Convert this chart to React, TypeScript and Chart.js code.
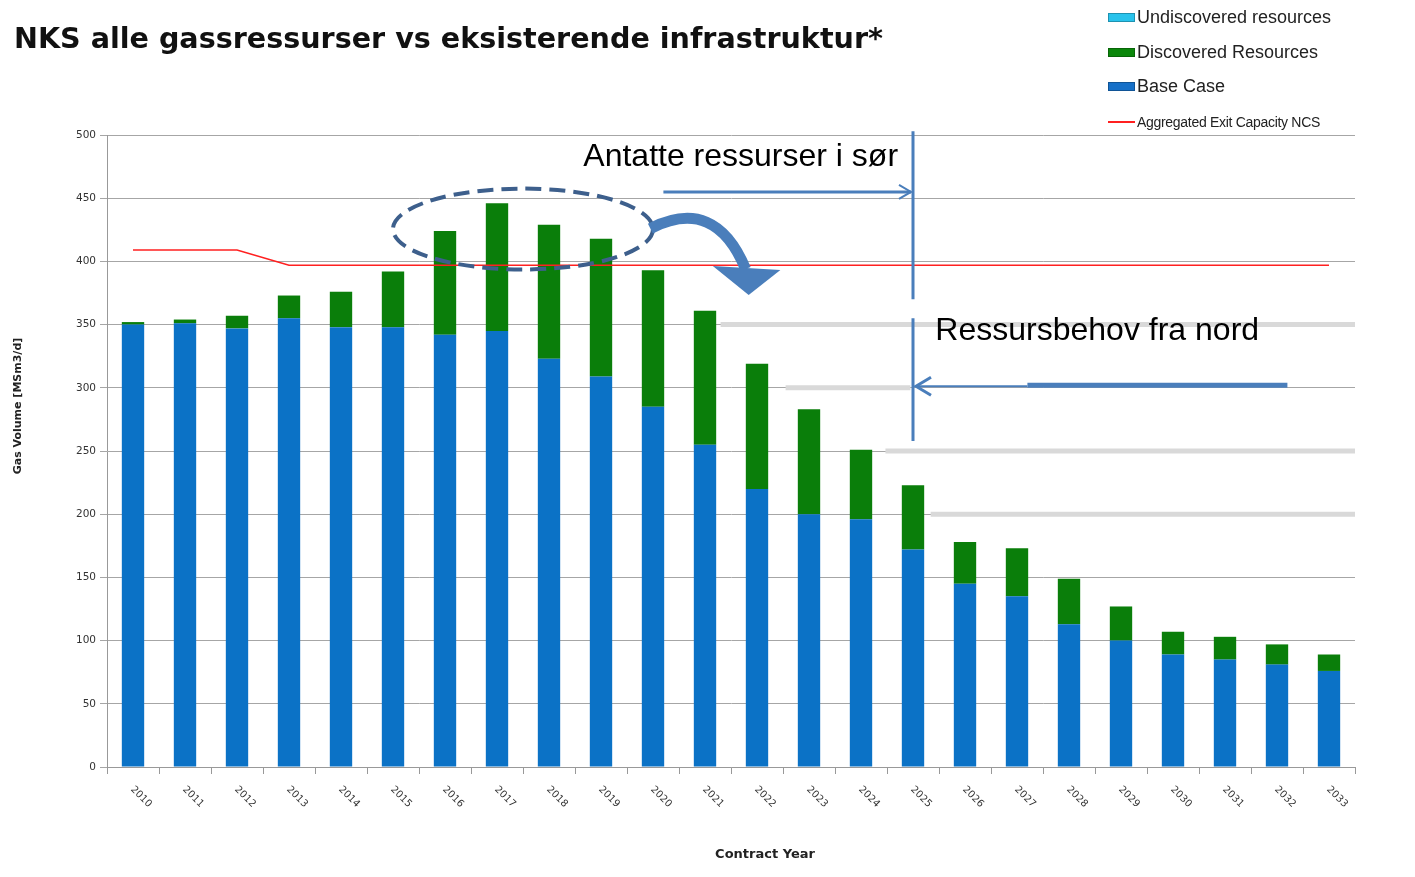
import React, { useEffect, useRef } from 'react';
import { Chart, registerables } from 'chart.js';

Chart.register(...registerables);

const years = ['2010', '2011', '2012', '2013', '2014', '2015', '2016', '2017', '2018', '2019', '2020', '2021', '2022', '2023', '2024', '2025', '2026', '2027', '2028', '2029', '2030', '2031', '2032', '2033'];
const baseCase = [350, 351, 347, 355, 348, 348, 342, 345, 323, 309, 285, 255, 220, 200, 196, 172, 145, 135, 113, 100, 89, 85, 81, 76];
const discovered = [2, 3, 10, 18, 28, 44, 82, 101, 106, 109, 108, 106, 99, 83, 55, 51, 33, 38, 36, 27, 18, 18, 16, 13];
const undiscovered = [0, 0, 0, 0, 0, 0, 0, 0, 0, 0, 0, 0, 0, 0, 0, 0, 0, 0, 0, 0, 0, 0, 0, 0];
const exitCapacity = [409, 409, 409, 397, 397, 397, 397, 397, 397, 397, 397, 397, 397, 397, 397, 397, 397, 397, 397, 397, 397, 397, 397, 397];

const title = 'NKS alle gassressurser vs eksisterende infrastruktur*';
const legendItems = [
  { label: 'Undiscovered resources', color: '#29c3ec', kind: 'box' },
  { label: 'Discovered Resources', color: '#0b870b', kind: 'box' },
  { label: 'Base Case', color: '#1670c8', kind: 'box' },
  { label: 'Aggregated Exit Capacity NCS', color: '#ff2020', kind: 'line' },
];

const annotPlugin = {
  id: 'annot',
  beforeDatasetsDraw(chart: any) {
    const { ctx, scales, chartArea } = chart;
    const x = scales.x, y = scales.y;
    const patches: [number, number, number][] = [
      [350, 11.3, 23.5],
      [300, 12.55, 14.95],
      [250, 14.47, 23.5],
      [200, 15.34, 23.5],
    ];
    ctx.save();
    ctx.strokeStyle = '#d9d9d9';
    ctx.lineWidth = 5;
    for (const [v, a, b] of patches) {
      ctx.beginPath();
      ctx.moveTo(x.getPixelForValue(a), y.getPixelForValue(v));
      ctx.lineTo(Math.min(x.getPixelForValue(b), chartArea.right), y.getPixelForValue(v));
      ctx.stroke();
    }
    ctx.restore();
  },
  afterDraw(chart: any) {
    const { ctx, scales, chartArea } = chart;
    const x = scales.x, y = scales.y;
    const px = (i: number) => x.getPixelForValue(i);
    const py = (v: number) => y.getPixelForValue(v);
    ctx.save();
    // x tick labels rotated clockwise
    ctx.font = '10px "DejaVu Sans"';
    ctx.fillStyle = '#333';
    ctx.textAlign = 'center';
    ctx.textBaseline = 'middle';
    years.forEach((lab, i) => {
      const tx = x.getPixelForTick(i);
      ctx.save();
      ctx.translate(tx + 8, chartArea.bottom + 30);
      ctx.rotate(Math.PI / 4);
      ctx.fillText(lab, 0, 0);
      ctx.restore();
    });
    // axis titles
    ctx.font = 'bold 11px "DejaVu Sans"';
    ctx.fillStyle = '#222';
    ctx.save();
    ctx.translate(18, 406);
    ctx.rotate(-Math.PI / 2);
    ctx.fillText('Gas Volume [MSm3/d]', 0, 0);
    ctx.restore();
    ctx.font = 'bold 13px "DejaVu Sans"';
    ctx.fillText('Contract Year', 765, 855);

    const blue = '#4a7ebb';
    // vertical divider at 2025
    ctx.strokeStyle = blue;
    ctx.lineWidth = 3;
    ctx.beginPath();
    ctx.moveTo(px(15), py(503));
    ctx.lineTo(px(15), py(370));
    ctx.moveTo(px(15), py(355));
    ctx.lineTo(px(15), py(258));
    ctx.stroke();

    // top arrow (pointing right)
    const ty = py(455);
    ctx.beginPath();
    ctx.moveTo(px(10.2), ty);
    ctx.lineTo(px(15) - 2, ty);
    ctx.stroke();
    ctx.lineWidth = 2;
    ctx.beginPath();
    ctx.moveTo(px(15) - 14, ty - 7);
    ctx.lineTo(px(15) - 2, ty);
    ctx.lineTo(px(15) - 14, ty + 7);
    ctx.stroke();

    // bottom arrow (pointing left)
    const by = py(302);
    ctx.lineWidth = 5;
    ctx.beginPath();
    ctx.moveTo(px(22.2), by);
    ctx.lineTo(px(17.2), by);
    ctx.stroke();
    ctx.lineWidth = 2;
    ctx.beginPath();
    ctx.moveTo(px(17.2), by + 1);
    ctx.lineTo(px(15) + 4, by + 1);
    ctx.stroke();
    ctx.lineWidth = 3;
    ctx.beginPath();
    ctx.moveTo(px(15) + 18, by - 8);
    ctx.lineTo(px(15) + 3, by + 1);
    ctx.lineTo(px(15) + 18, by + 10);
    ctx.stroke();

    // dashed ellipse
    ctx.strokeStyle = '#3d5f8c';
    ctx.lineWidth = 4;
    ctx.setLineDash([16, 8]);
    ctx.beginPath();
    const ecx = px(7.5), ecy = py(425.6);
    const erx = px(10) - px(7.5), ery = py(400) - py(432);
    ctx.ellipse(ecx, ecy, erx, ery, 0, 0, Math.PI * 2);
    ctx.stroke();
    ctx.setLineDash([]);

    // curved arrow
    ctx.strokeStyle = blue;
    ctx.lineWidth = 11;
    ctx.lineCap = 'butt';
    ctx.beginPath();
    ctx.moveTo(px(9.95), py(426));
    ctx.quadraticCurveTo(px(11.2), py(452), px(11.78), py(394));
    ctx.stroke();
    ctx.fillStyle = blue;
    ctx.beginPath();
    ctx.moveTo(px(11.15), py(396.4));
    ctx.lineTo(px(12.45), py(393.2));
    ctx.lineTo(px(11.84), py(373.5));
    ctx.closePath();
    ctx.fill();

    // annotation texts
    ctx.fillStyle = '#000';
    ctx.font = '32px "Liberation Sans"';
    ctx.textAlign = 'left';
    ctx.textBaseline = 'middle';
    ctx.fillText('Antatte ressurser i sør', px(8.66), py(482.6));
    ctx.fillText('Ressursbehov fra nord', px(15.43), py(345));
    ctx.restore();
  },
};

export default function App() {
  const ref = useRef<HTMLCanvasElement>(null);
  useEffect(() => {
    if (!ref.current) return;
    const chart = new Chart(ref.current, {
      type: 'bar',
      data: {
        labels: years,
        datasets: [
          {
            type: 'line',
            label: 'Aggregated Exit Capacity NCS',
            data: exitCapacity,
            borderColor: '#ff2020',
            borderWidth: 1.6,
            pointRadius: 0,
            stack: 'cap',
            order: 0,
          } as any,
          {
            label: 'Base Case',
            data: baseCase,
            backgroundColor: '#0b72c6',
            stack: 'gas',
            order: 1,
            barPercentage: 0.43,
            categoryPercentage: 1,
          },
          {
            label: 'Discovered Resources',
            data: discovered,
            backgroundColor: '#0a7e0a',
            stack: 'gas',
            order: 1,
            barPercentage: 0.43,
            categoryPercentage: 1,
          },
          {
            label: 'Undiscovered resources',
            data: undiscovered,
            backgroundColor: '#29c3ec',
            stack: 'gas',
            order: 1,
            barPercentage: 0.43,
            categoryPercentage: 1,
          },
        ],
      },
      options: {
        animation: false,
        responsive: false,
        layout: { padding: { top: 135, right: 60, left: 0, bottom: 0 } },
        plugins: { legend: { display: false }, tooltip: { enabled: false } },
        scales: {
          x: {
            stacked: true,
            afterFit: (s: any) => { s.height = 110; },
            ticks: { display: false },
            grid: { drawOnChartArea: false, drawTicks: true, tickLength: 7, color: '#999', offset: true },
            border: { color: '#999' },
          },
          y: {
            stacked: true,
            min: 0,
            max: 500,
            afterFit: (s: any) => { s.width = 107; },
            ticks: { stepSize: 50, color: '#333', font: { family: 'DejaVu Sans', size: 10.5 }, padding: 4 },
            grid: { color: '#a6a6a6', tickLength: 7, drawTicks: true },
            border: { color: '#999' },
          },
        },
      },
      plugins: [annotPlugin],
    });
    return () => chart.destroy();
  }, []);

  return (
    <div style={{ position: 'absolute', left: 0, top: 0, width: 1415, height: 877, background: '#fff', fontFamily: '"Liberation Sans", Arial, sans-serif' }}>
      <canvas ref={ref} width={1415} height={877} style={{ position: 'absolute', left: 0, top: 0 }} />
      <div style={{ position: 'absolute', left: 14, top: 21, fontSize: 28.6, lineHeight: '34px', fontWeight: 'bold', fontFamily: '"DejaVu Sans", sans-serif', color: '#111', whiteSpace: 'nowrap' }}>{title}</div>
      {legendItems.map((it, i) => {
        const cy = [17, 52, 86, 122][i];
        return (
          <div key={it.label} style={{ position: 'absolute', left: 1108, top: cy - 12, height: 24, display: 'flex', alignItems: 'center', whiteSpace: 'nowrap' }}>
            {it.kind === 'box' ? (
              <div style={{ width: 27, height: 9, background: it.color, border: '1px solid rgba(0,0,0,0.25)', boxSizing: 'border-box' }} />
            ) : (
              <div style={{ width: 27, height: 2, background: it.color }} />
            )}
            <span style={{ marginLeft: 2, fontSize: it.kind === 'box' ? 18 : 14, letterSpacing: it.kind === 'box' ? 0 : -0.3, color: '#222' }}>{it.label}</span>
          </div>
        );
      })}
    </div>
  );
}
